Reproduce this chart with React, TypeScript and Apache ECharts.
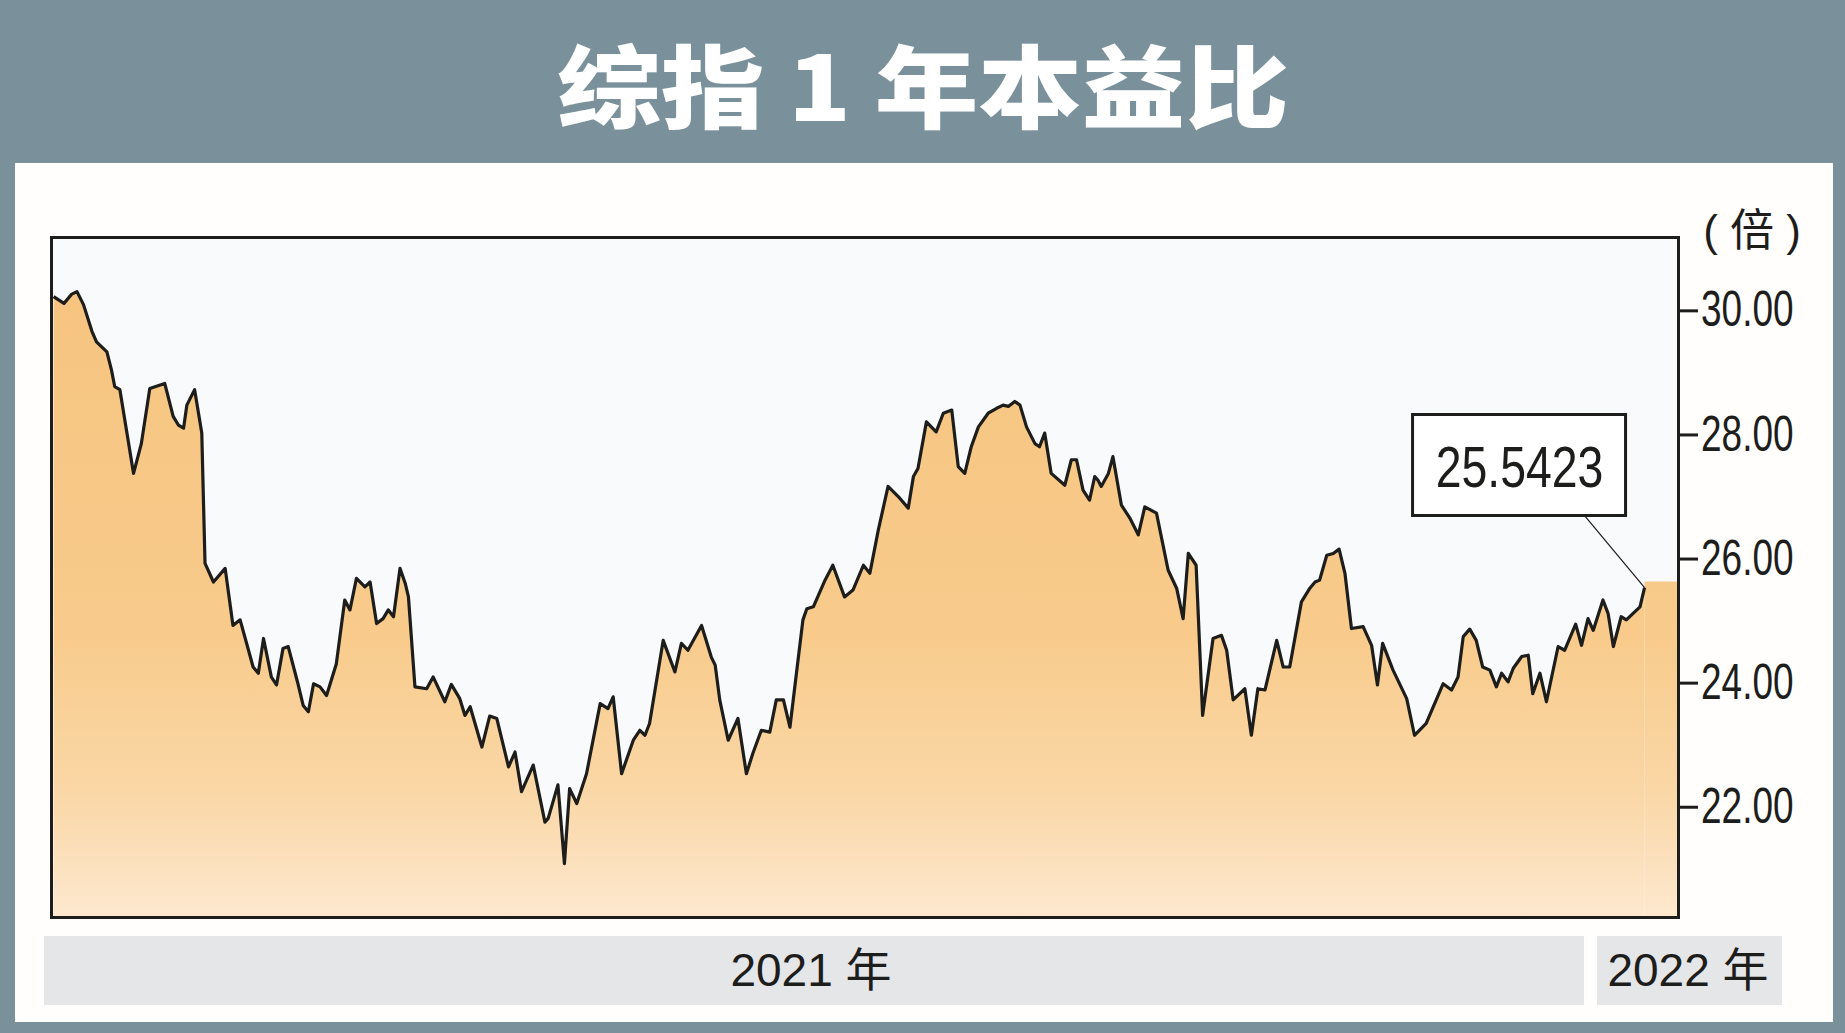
import { useEffect, useRef } from "react";
import * as echarts from "echarts";

// 综指 1 年本益比 — trading-day index vs P/E ratio
const TITLE = "综指 1 年本益比";
const UNIT_LABEL = "( 倍 )";
const LAST_LABEL = "25.5423";
const YEAR_LABELS = ["2021 年", "2022 年"];
const Y_TICKS = [22, 24, 26, 28, 30];
const Y_MIN = 20.215;
const Y_MAX = 31.19;
const X_MIN = -0.3;
const X_MAX = 250.2;
const TAIL_VALUE = 25.64;

const DAYS = [
  0.1, 1.7, 2.9, 3.7, 4.7, 6.0, 6.7, 8.3, 9.0, 9.5, 10.3, 12.4, 13.6, 14.9, 17.2, 18.5, 19.3, 20.1, 20.6, 21.8,
  22.9, 23.4, 24.7, 26.5, 27.7, 28.8, 30.8, 31.6, 32.4, 33.6, 34.4, 35.4, 36.2, 37.7, 38.5, 39.3, 40.1, 41.1, 42.1, 43.6,
  44.9, 45.7, 46.7, 48.0, 48.8, 49.8, 50.8, 51.6, 52.4, 53.4, 54.2, 54.7, 55.7, 57.5, 58.5, 60.3, 61.3, 62.6, 63.4, 64.2,
  66.0, 67.2, 68.3, 70.1, 71.1, 72.1, 73.9, 75.7, 76.2, 77.7, 78.7, 79.5, 80.6, 82.1, 84.2, 85.4, 86.2, 87.5, 89.3, 90.3,
  91.1, 91.8, 93.9, 95.7, 96.7, 97.7, 99.8, 101.3, 101.9, 102.6, 103.9, 105.4, 106.7, 107.7, 109.0, 110.3, 111.3, 112.4, 113.4, 114.4,
  115.4, 116.0, 117.0, 118.8, 120.0, 121.8, 123.1, 124.7, 125.7, 127.0, 128.5, 130.3, 131.6, 132.4, 133.1, 134.4, 135.9, 137.0, 138.3, 139.3,
  140.3, 141.3, 142.4, 143.9, 145.2, 146.2, 147.0, 148.0, 148.8, 149.8, 151.1, 151.8, 152.6, 153.6, 155.7, 156.7, 157.5, 158.5, 159.5, 160.3,
  160.8, 161.3, 162.4, 163.1, 164.4, 165.7, 167.0, 168.0, 169.8, 171.6, 172.9, 173.9, 174.7, 175.9, 176.9, 178.5, 179.8, 180.6, 181.6, 183.4,
  184.4, 185.4, 186.5, 188.3, 189.3, 190.3, 192.1, 193.4, 194.2, 194.9, 196.0, 197.0, 197.9, 198.8, 199.8, 201.6, 202.9, 203.8, 204.6, 206.2,
  208.3, 209.5, 211.3, 213.9, 215.2, 216.2, 217.0, 218.0, 219.0, 220.0, 221.1, 222.1, 222.9, 223.9, 224.7, 226.0, 227.0, 227.7, 228.8, 229.8,
  231.6, 232.6, 234.3, 235.2, 236.2, 237.0, 238.5, 239.3, 240.1, 241.3, 242.1, 243.1, 244.2, 244.9,
];

const PE_RATIO = [
  30.23, 30.12, 30.27, 30.31, 30.1, 29.67, 29.5, 29.34, 29.05, 28.78, 28.73, 27.38, 27.86, 28.75, 28.83, 28.3, 28.16, 28.11, 28.48, 28.73,
  28.03, 25.93, 25.63, 25.85, 24.93, 25.02, 24.26, 24.16, 24.72, 24.1, 23.97, 24.56, 24.59, 23.99, 23.64, 23.54, 23.99, 23.94, 23.8, 24.31,
  25.34, 25.18, 25.69, 25.55, 25.63, 24.96, 25.04, 25.18, 25.07, 25.85, 25.61, 25.39, 23.94, 23.91, 24.1, 23.7, 23.98, 23.75, 23.48, 23.62,
  22.97, 23.47, 23.43, 22.65, 22.89, 22.25, 22.68, 21.76, 21.82, 22.36, 21.09, 22.3, 22.06, 22.54, 23.67, 23.59, 23.78, 22.54, 23.08, 23.24,
  23.16, 23.35, 24.69, 24.18, 24.64, 24.53, 24.93, 24.42, 24.29, 23.73, 23.08, 23.43, 22.54, 22.87, 23.24, 23.21, 23.73, 23.73, 23.29, 24.16,
  25.02, 25.2, 25.23, 25.66, 25.9, 25.39, 25.5, 25.9, 25.77, 26.47, 27.17, 26.98, 26.82, 27.33, 27.46, 28.21, 28.05, 28.35, 28.4, 27.49,
  27.38, 27.81, 28.13, 28.35, 28.43, 28.48, 28.46, 28.54, 28.48, 28.13, 27.86, 27.81, 28.03, 27.38, 27.19, 27.6, 27.6, 27.11, 26.95, 27.33,
  27.27, 27.17, 27.38, 27.65, 26.87, 26.66, 26.39, 26.84, 26.74, 25.82, 25.53, 25.04, 26.09, 25.9, 23.48, 24.72, 24.77, 24.53, 23.73, 23.91,
  23.16, 23.91, 23.89, 24.69, 24.26, 24.26, 25.31, 25.53, 25.63, 25.66, 26.06, 26.09, 26.16, 25.77, 24.88, 24.91, 24.61, 23.97, 24.64, 24.21,
  23.75, 23.16, 23.35, 23.99, 23.89, 24.1, 24.75, 24.87, 24.69, 24.26, 24.21, 23.94, 24.16, 24.02, 24.24, 24.43, 24.45, 23.83, 24.16, 23.7,
  24.59, 24.53, 24.95, 24.61, 25.04, 24.85, 25.34, 25.12, 24.59, 25.07, 25.02, 25.12, 25.23, 25.54,
];

const INK = "#1d1d1b";
const FRAME = "#7a919c";
const SANS = '"Liberation Sans", Arial, "Noto Sans CJK SC", sans-serif';

const areaFill = {
  type: "linear",
  x: 0,
  y: 290,
  x2: 0,
  y2: 918,
  global: true,
  colorStops: [
    { offset: 0, color: "#f6c47f" },
    { offset: 0.55, color: "#f8cb8c" },
    { offset: 0.8, color: "#fad7a6" },
    { offset: 1, color: "#fde8cf" },
  ],
};

export default function App(): JSX.Element {
  const ref = useRef<HTMLDivElement | null>(null);

  useEffect(() => {
    const el = ref.current;
    if (!el) return;
    const chart = echarts.init(el, null, { renderer: "svg" });
    const series = DAYS.map((d, i) => [d, PE_RATIO[i]]);
    const lastDay = DAYS[DAYS.length - 1];
    const lastValue = PE_RATIO[PE_RATIO.length - 1];

    chart.setOption({
      animation: false,
      backgroundColor: FRAME,
      grid: {
        left: 51,
        top: 237,
        width: 1628,
        height: 681,
        show: true,
        backgroundColor: "#f9fafc",
        borderWidth: 0,
      },
      xAxis: { type: "value", min: X_MIN, max: X_MAX, show: false },
      yAxis: {
        type: "value",
        position: "right",
        min: Y_MIN,
        max: Y_MAX,
        splitLine: { show: false },
        axisLine: { show: false },
        axisTick: { show: false },
        axisLabel: { show: false },
      },
      series: [
        {
          type: "line",
          data: [
            [lastDay, TAIL_VALUE],
            [X_MAX, TAIL_VALUE],
          ],
          showSymbol: false,
          lineStyle: { width: 0, opacity: 0 },
          areaStyle: { color: areaFill, opacity: 1, origin: "start" },
          z: 1,
          silent: true,
        },
        {
          type: "line",
          data: series,
          showSymbol: false,
          smooth: false,
          lineStyle: { color: INK, width: 3.2, join: "round" },
          areaStyle: { color: areaFill, opacity: 1, origin: "start" },
          z: 2,
        },
      ],
      graphic: [
        { id: "panel", type: "rect", z: -10, shape: { x: 15, y: 163, width: 1818, height: 859 }, style: { fill: "#fffefd" } },
        {
          id: "title",
          type: "text",
          x: 923,
          y: 82,
          scaleX: 1.15,
          style: {
            text: TITLE,
            fill: "#ffffff",
            fontSize: 90,
            fontWeight: 900,
            fontFamily: '"Noto Sans CJK SC", sans-serif',
            align: "center",
            verticalAlign: "middle",
          },
        },
        {
          id: "unit",
          type: "text",
          x: 1752,
          y: 230,
          style: {
            text: UNIT_LABEL,
            fill: INK,
            fontSize: 44,
            fontFamily: SANS,
            align: "center",
            verticalAlign: "middle",
          },
        },
        { id: "bar1", type: "rect", shape: { x: 44, y: 936, width: 1540, height: 69 }, style: { fill: "#e4e6e8" } },
        { id: "bar2", type: "rect", shape: { x: 1597, y: 936, width: 185, height: 69 }, style: { fill: "#e4e6e8" } },
        {
          id: "year1",
          type: "text",
          x: 811,
          y: 970,
          style: { text: YEAR_LABELS[0], fill: INK, fontSize: 46, fontFamily: SANS, align: "center", verticalAlign: "middle" },
        },
        {
          id: "year2",
          type: "text",
          x: 1688,
          y: 970,
          style: { text: YEAR_LABELS[1], fill: INK, fontSize: 46, fontFamily: SANS, align: "center", verticalAlign: "middle" },
        },
        {
          id: "border",
          type: "rect",
          z: 100,
          shape: { x: 51.5, y: 237.5, width: 1627, height: 680 },
          style: { fill: "none", stroke: INK, lineWidth: 3 },
        },
      ],
    });

    // right-hand ticks and condensed labels, placed through the y scale
    const tickGraphics = Y_TICKS.flatMap((v) => {
      const [ax, ay] = chart.convertToPixel({ gridIndex: 0 }, [X_MAX, v]) as number[];
      return [
        {
          id: `tick-${v}`,
          type: "line",
          z: 100,
          shape: { x1: ax, y1: ay, x2: ax + 19, y2: ay },
          style: { stroke: INK, lineWidth: 3 },
        },
        {
          id: `label-${v}`,
          type: "text",
          z: 100,
          x: ax + 22,
          y: ay - 2,
          scaleX: 0.74,
          style: {
            text: v.toFixed(2),
            fill: INK,
            fontSize: 50,
            fontFamily: SANS,
            align: "left",
            verticalAlign: "middle",
          },
        },
      ];
    });

    // callout anchored to the last point
    const [px, py] = chart.convertToPixel({ gridIndex: 0 }, [lastDay, lastValue]) as number[];
    chart.setOption({
      graphic: [
        ...tickGraphics,
        {
          id: "leader",
          type: "line",
          z: 50,
          shape: { x1: px - 60, y1: py - 72, x2: px, y2: py },
          style: { stroke: INK, lineWidth: 1.2 },
        },
        {
          id: "calloutBox",
          type: "rect",
          z: 50,
          shape: { x: px - 232, y: py - 173, width: 213, height: 101 },
          style: { fill: "#ffffff", stroke: INK, lineWidth: 3 },
        },
        {
          id: "calloutText",
          type: "text",
          z: 51,
          x: px - 125,
          y: py - 121,
          scaleX: 0.8,
          style: {
            text: LAST_LABEL,
            fill: INK,
            fontSize: 58,
            fontFamily: SANS,
            align: "center",
            verticalAlign: "middle",
          },
        },
      ],
    });

    return () => chart.dispose();
  }, []);

  return <div ref={ref} style={{ position: "fixed", left: 0, top: 0, width: 1845, height: 1033 }} />;
}
